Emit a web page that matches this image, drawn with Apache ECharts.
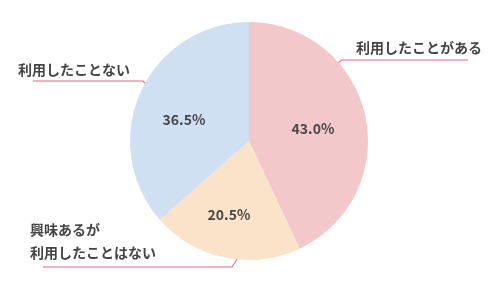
<!DOCTYPE html>
<html><head><meta charset="utf-8">
<script src="https://cdn.jsdelivr.net/npm/echarts@6/dist/echarts.min.js"></script>
<style>html,body{margin:0;padding:0;background:#fff}#c{width:500px;height:285px}</style>
</head><body><div id="c"></div>
<script>
const categories = ['利用したことがある', '興味あるが\n利用したことはない', '利用したことない'];
const values = [43.0, 20.5, 36.5];
const colors = ['#f3c8cb', '#fbe3ca', '#cfe0f2'];

const innerPos = [[313, 129], [229, 215], [184, 120]];
const outerPos = [
  {x: 356, y: 48, pts: [[332, 67], [342, 60], [468, 60]]},
  {x: 30, y: 241, pts: [[240, 255], [232, 267], [43, 267]]},
  {x: 18, y: 70, pts: [[152, 90], [143, 81], [33, 81]]}
];

const data = categories.map((c, i) => ({name: c, value: values[i], itemStyle: {color: colors[i]}}));
const font = '"Noto Sans CJK JP", "Noto Sans", sans-serif';
const chart = echarts.init(document.getElementById('c'), null, {renderer: 'canvas'});
chart.setOption({
  backgroundColor: '#ffffff',
  animation: false,
  series: [
    {
      type: 'pie', center: [249, 141], radius: 119, startAngle: 90, clockwise: true,
      data: data,
      itemStyle: {borderWidth: 0},
      label: {show: true, position: 'inside', formatter: p => p.value.toFixed(1) + '%',
        color: '#484848', fontSize: 14, fontWeight: 'bold', fontFamily: font},
      labelLayout: p => ({x: innerPos[p.dataIndex][0], y: innerPos[p.dataIndex][1], align: 'center', verticalAlign: 'middle'}),
      labelLine: {show: false},
      silent: true
    },
    {
      type: 'pie', center: [249, 141], radius: 119, startAngle: 90, clockwise: true,
      data: data.map(d => ({name: d.name, value: d.value, itemStyle: {color: 'rgba(0,0,0,0)'}})),
      label: {show: true, position: 'outside', formatter: '{b}', color: '#444444', fontSize: 14,
        fontWeight: 'bold', fontFamily: font, lineHeight: 23, align: 'left', overflow: 'none', width: 200},
      labelLine: {show: true, lineStyle: {color: '#d86f84', width: 1.2}},
      labelLayout: p => {
        const o = outerPos[p.dataIndex];
        return {x: o.x, y: o.y, align: 'left', verticalAlign: 'middle', labelLinePoints: o.pts};
      },
      silent: true
    }
  ]
});
</script></body></html>
